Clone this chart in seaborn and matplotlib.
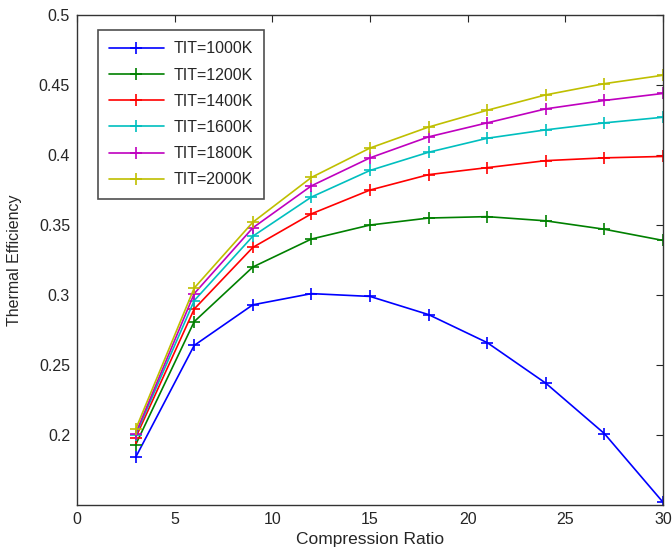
import seaborn as sns
import matplotlib.pyplot as plt
import pandas as pd

ratio = [3, 6, 9, 12, 15, 18, 21, 24, 27, 30]
tit_labels = ['TIT=1000K', 'TIT=1200K', 'TIT=1400K', 'TIT=1600K', 'TIT=1800K', 'TIT=2000K']
eff_1000 = [0.184, 0.264, 0.293, 0.301, 0.299, 0.286, 0.266, 0.237, 0.201, 0.152]
eff_1200 = [0.193, 0.281, 0.320, 0.340, 0.350, 0.355, 0.356, 0.353, 0.347, 0.339]
eff_1400 = [0.198, 0.290, 0.334, 0.358, 0.375, 0.386, 0.391, 0.396, 0.398, 0.399]
eff_1600 = [0.200, 0.296, 0.342, 0.370, 0.389, 0.402, 0.412, 0.418, 0.423, 0.427]
eff_1800 = [0.201, 0.301, 0.348, 0.378, 0.398, 0.413, 0.423, 0.433, 0.439, 0.444]
eff_2000 = [0.204, 0.305, 0.352, 0.384, 0.405, 0.420, 0.432, 0.443, 0.451, 0.457]

series = [eff_1000, eff_1200, eff_1400, eff_1600, eff_1800, eff_2000]
colors = ['#0000ff', '#008000', '#ff0000', '#00bfbf', '#bf00bf', '#bfbf00']

rows = []
for label, vals in zip(tit_labels, series):
    for x, y in zip(ratio, vals):
        rows.append({'Compression Ratio': x, 'Thermal Efficiency': y, 'TIT': label})
df = pd.DataFrame(rows)

sns.set_style('white')
plt.rcParams['font.family'] = ['Liberation Sans', 'DejaVu Sans']

fig = plt.figure(figsize=(6.72, 5.58), dpi=100)
ax = fig.add_axes([0.1146, 0.095, 0.872, 0.878])

sns.lineplot(data=df, x='Compression Ratio', y='Thermal Efficiency', hue='TIT',
             palette=colors, marker='+', markersize=9, markeredgewidth=1.2,
             linewidth=1.2, ax=ax)
# seaborn paints marker edges white; give them the line colour
for ln in ax.lines:
    ln.set_markeredgecolor(ln.get_color())

ax.set_xlim(0, 30)
ax.set_ylim(0.15, 0.5)
ax.set_xticks([0, 5, 10, 15, 20, 25, 30])
ax.set_yticks([0.2, 0.25, 0.3, 0.35, 0.4, 0.45, 0.5])
ax.set_yticklabels(['0.2', '0.25', '0.3', '0.35', '0.4', '0.45', '0.5'])
ax.tick_params(direction='in', top=True, right=True, length=5, labelsize=11.5,
               width=0.8, pad=5)
for s in ax.spines.values():
    s.set_color('#333333')
    s.set_linewidth(1.0)
ax.set_xlabel('Compression Ratio', fontsize=12.5, labelpad=4)
ax.set_ylabel('Thermal Efficiency', fontsize=11.5, labelpad=12)

leg = ax.legend(loc='upper left', bbox_to_anchor=(0.036, 0.969), borderaxespad=0,
                fontsize=11.5, frameon=True, fancybox=False, edgecolor='#222222',
                handlelength=3.4, handletextpad=0.6, labelspacing=0.7, borderpad=0.7)
leg.get_frame().set_linewidth(1.2)
for h in leg.legend_handles:
    h.set_markeredgecolor(h.get_color())

fig.savefig('out.png', dpi=100)
